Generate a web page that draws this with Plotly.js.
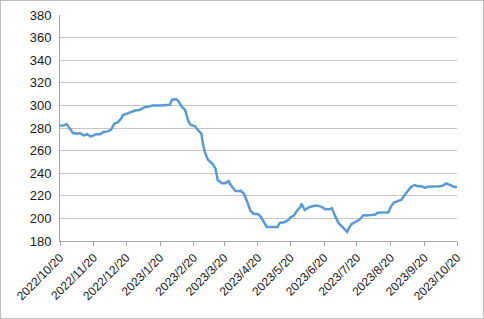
<!DOCTYPE html>
<html><head><meta charset="utf-8">
<script src="https://cdn.plot.ly/plotly-3.0.1.min.js"></script>
<style>html,body{margin:0;padding:0;background:#fff}#frame{width:482px;height:317px;border:1px solid #BFBFBF;}#chart{width:482px;height:317px}</style>
</head><body><div id="frame"><div id="chart"></div></div>
<script>
const dates = ["2022-10-20","2022-10-24","2022-10-26","2022-10-29","2022-11-01","2022-11-05","2022-11-07","2022-11-11","2022-11-14","2022-11-17","2022-11-19","2022-11-22","2022-11-26","2022-11-29","2022-12-03","2022-12-06","2022-12-09","2022-12-12","2022-12-15","2022-12-17","2022-12-21","2022-12-24","2022-12-28","2023-01-01","2023-01-03","2023-01-06","2023-01-10","2023-01-13","2023-01-20","2023-01-26","2023-01-29","2023-01-31","2023-02-04","2023-02-06","2023-02-09","2023-02-12","2023-02-15","2023-02-17","2023-02-21","2023-02-24","2023-02-27","2023-02-28","2023-03-02","2023-03-05","2023-03-09","2023-03-12","2023-03-14","2023-03-18","2023-03-21","2023-03-24","2023-03-26","2023-03-30","2023-04-02","2023-04-04","2023-04-07","2023-04-10","2023-04-13","2023-04-16","2023-04-20","2023-04-23","2023-04-26","2023-04-28","2023-05-03","2023-05-08","2023-05-10","2023-05-14","2023-05-18","2023-05-20","2023-05-23","2023-05-26","2023-05-29","2023-05-30","2023-06-02","2023-06-06","2023-06-10","2023-06-13","2023-06-17","2023-06-21","2023-06-24","2023-06-27","2023-06-30","2023-07-03","2023-07-07","2023-07-11","2023-07-13","2023-07-15","2023-07-19","2023-07-23","2023-07-26","2023-07-29","2023-08-02","2023-08-06","2023-08-08","2023-08-12","2023-08-18","2023-08-20","2023-08-23","2023-08-27","2023-08-30","2023-09-02","2023-09-05","2023-09-08","2023-09-11","2023-09-14","2023-09-17","2023-09-21","2023-09-23","2023-09-27","2023-10-01","2023-10-04","2023-10-07","2023-10-10","2023-10-14","2023-10-17","2023-10-20"];
const values = [282,282.5,283.5,280,275.5,275,275.5,273.5,274.5,272.5,273,274.5,274.5,276.5,277,278.5,284,285,288,291.5,293,294.5,295.5,296,297,298.5,299,300,300,300,300.5,305,305.5,303.5,299,296,286,283,281.5,278,275,268,259,252,248.5,244,234,231,231,233,229.5,224.5,224,224.5,222,215,207,204,204,201,195,192.5,192.5,192.5,196,196.5,198.5,201,202.5,207,210,213,207.5,210,211,211.5,210.5,208,208,209,202,196,192,188,192,195,197,199.5,203,202.5,203,203.5,205,205,205.5,210,214,215.5,216.5,221,225,228,229.5,228.5,228.5,227,228,228,228,228.5,229,231,229.5,228,227.5];
const tickDates = ["2022-10-20","2022-11-20","2022-12-20","2023-01-20","2023-02-20","2023-03-20","2023-04-20","2023-05-20","2023-06-20","2023-07-20","2023-08-20","2023-09-20","2023-10-20"];
const tickLabels = ["2022/10/20","2022/11/20","2022/12/20","2023/1/20","2023/2/20","2023/3/20","2023/4/20","2023/5/20","2023/6/20","2023/7/20","2023/8/20","2023/9/20","2023/10/20"];

Plotly.newPlot('chart', [{
  x: dates, y: values, type: 'scatter', mode: 'lines',
  line: {color: '#5B9BD5', width: 2.5, shape: 'linear'}, hoverinfo: 'skip'
}], {
  width: 482, height: 317,
  margin: {l: 59, r: 26, t: 14, b: 77},
  paper_bgcolor: '#fff', plot_bgcolor: '#fff',
  showlegend: false,
  font: {family: 'Liberation Sans, Arial, sans-serif', color: '#1a1a1a'},
  xaxis: {
    type: 'date', range: ['2022-10-20', '2023-10-20'],
    tickvals: tickDates, ticktext: tickLabels, tickangle: -45,
    tickfont: {size: 12, color: '#1a1a1a'},
    ticks: 'outside', ticklen: 4, tickcolor: '#A6A6A6',
    showgrid: false, showline: true, linecolor: '#A6A6A6', linewidth: 1,
    zeroline: false, fixedrange: true
  },
  yaxis: {
    range: [180, 380], tickvals: [180,200,220,240,260,280,300,320,340,360,380],
    tickfont: {size: 13, color: '#1a1a1a'}, ticklabelstandoff: 5,
    showgrid: true, gridcolor: '#C6C6C6', gridwidth: 1,
    showline: true, linecolor: '#A6A6A6', linewidth: 1,
    ticks: '', zeroline: false, fixedrange: true
  }
}, {staticPlot: true, displayModeBar: false});
</script>
</body></html>
